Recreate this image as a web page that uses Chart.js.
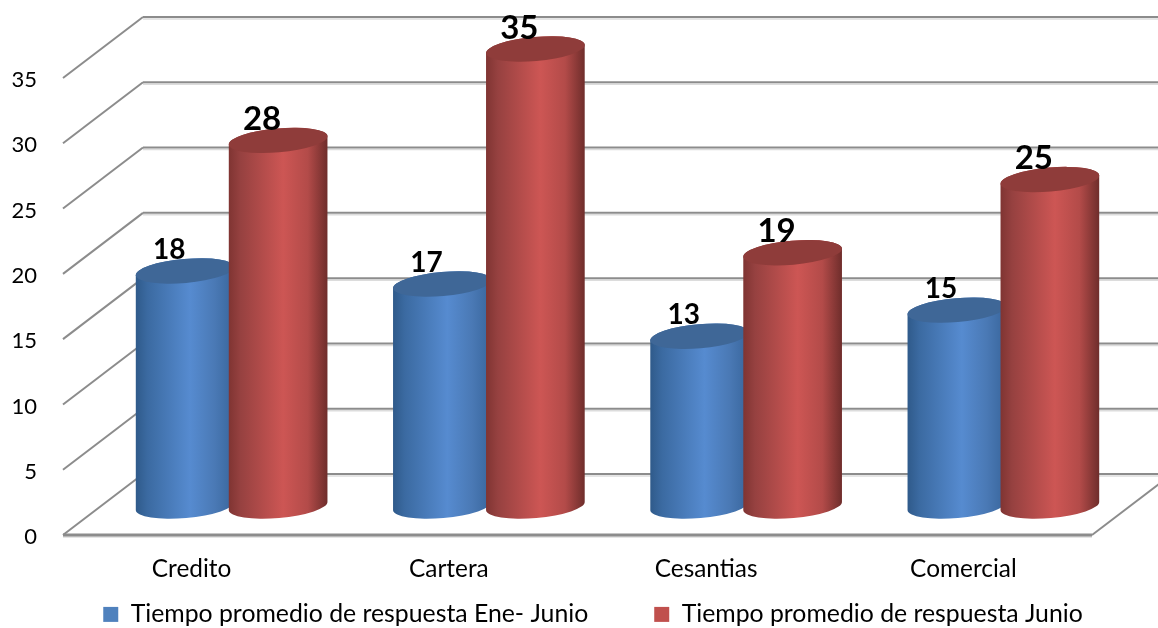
<!DOCTYPE html>
<html>
<head>
<meta charset="utf-8">
<style>
  html, body { margin: 0; padding: 0; background: #fff; }
  canvas { display: block; }
</style>
<script src="https://cdn.jsdelivr.net/npm/chart.js@4/dist/chart.umd.min.js"></script>
</head>
<body>
<canvas id="myChart" width="1158" height="628"></canvas>
<script>
const categorias = ['Credito', 'Cartera', 'Cesantias', 'Comercial'];
const tiempoEneJunio = [18, 17, 13, 15];
const tiempoJunio = [28, 35, 19.4, 25];
const etiquetaEneJunio = 'Tiempo promedio de respuesta Ene- Junio';
const etiquetaJunio = 'Tiempo promedio de respuesta Junio';
const ticksY = [0, 5, 10, 15, 20, 25, 30, 35];

// Profundidad de la caja 3D
const fondoX = 80, fondoY = -61;
const gris = '#8c8c8c', grisClaro = '#dcdcdc';
const tonos = {
  '#4f81bd': { stops: [[0, '#2f5a8a'], [0.12, '#3b6aa1'], [0.55, '#568bd0'], [0.8, '#4a79b5'], [1, '#38659b']], tapa: '#3f6797' },
  '#c0504d': { stops: [[0, '#7f3432'], [0.12, '#964140'], [0.55, '#cd5654'], [0.8, '#b34b49'], [1, '#6e2d2b']], tapa: '#8f3c3a' }
};

// Cada barra se dibuja como cilindro, desplazada a media profundidad
Chart.BarElement.prototype.draw = function (ctx) {
  const { x, y, base, width } = this.getProps(['x', 'y', 'base', 'width']);
  const tono = tonos[this.options.backgroundColor];
  const cx = x + fondoX / 2, rx = width * 1.065 / 2, ry = 12, giro = -5 * Math.PI / 180;
  const arriba = y - 29, abajo = base - 29;
  const grad = ctx.createLinearGradient(cx - rx, 0, cx + rx, 0);
  tono.stops.forEach(s => grad.addColorStop(s[0], s[1]));
  ctx.save();
  ctx.beginPath();
  ctx.ellipse(cx, abajo, rx, ry, giro, 0, Math.PI);
  ctx.ellipse(cx, arriba, rx, ry, giro, Math.PI, 2 * Math.PI);
  ctx.closePath();
  ctx.fillStyle = grad;
  ctx.fill();
  ctx.beginPath();
  ctx.ellipse(cx, arriba, rx, ry, giro, 0, 2 * Math.PI);
  ctx.fillStyle = tono.tapa;
  ctx.fill();
  ctx.restore();
};

function linea(ctx, x1, y1, x2, y2, color, ancho) {
  ctx.beginPath();
  ctx.moveTo(x1, y1);
  ctx.lineTo(x2, y2);
  ctx.strokeStyle = color;
  ctx.lineWidth = ancho;
  ctx.stroke();
}

const caja3d = {
  id: 'caja3d',
  afterLayout(chart) {
    // La leyenda va algo a la derecha y pegada abajo
    const l = chart.legend;
    l.left += 14; l.right += 14;
    l.top = 602 - l.options.labels.padding;
  },
  beforeDatasetsDraw(chart) {
    const ctx = chart.ctx, { left, right } = chart.chartArea, esc = chart.scales.y;
    ctx.save();
    ticksY.forEach(v => {
      const py = esc.getPixelForValue(v);
      linea(ctx, left + fondoX, py + fondoY + 2, right + fondoX, py + fondoY + 2, grisClaro, 1.5);
      linea(ctx, left + fondoX, py + fondoY, right + fondoX, py + fondoY, gris, 2);
      linea(ctx, left, py, left + fondoX, py + fondoY, gris, 2);
    });
    const y0 = esc.getPixelForValue(0);
    linea(ctx, right, y0, right + fondoX, y0 + fondoY, gris, 2);
    linea(ctx, left, y0 + 2, right, y0 + 2, grisClaro, 1.5);
    linea(ctx, left, y0, right, y0, gris, 3);
    ctx.restore();

    // Primero azul y luego rojo, el rojo tapa el borde del azul
    [0, 1].forEach(i => chart.getDatasetMeta(i).controller.draw());

    // Etiquetas de valor
    ctx.save();
    ctx.fillStyle = '#000';
    ctx.textAlign = 'center';
    ctx.textBaseline = 'middle';
    [0, 1].forEach(i => {
      ctx.font = (i === 0 ? 'bold 28px' : 'bold 33px') + ' Lato';
      chart.getDatasetMeta(i).data.forEach((bar, j) => {
        const v = chart.data.datasets[i].data[j];
        ctx.fillText(Math.round(v), bar.x + fondoX / 2 - 16, bar.y - 29 - 21);
      });
    });
    ctx.restore();
    return false;
  }
};

new Chart(document.getElementById('myChart'), {
  type: 'bar',
  data: {
    labels: categorias,
    datasets: [
      { label: etiquetaEneJunio, data: tiempoEneJunio, backgroundColor: '#4f81bd', borderWidth: 0 },
      { label: etiquetaJunio, data: tiempoJunio, backgroundColor: '#c0504d', borderWidth: 0 }
    ]
  },
  options: {
    responsive: false,
    animation: false,
    layout: { padding: { top: 78 } },
    datasets: { bar: { categoryPercentage: 0.723, barPercentage: 1 } },
    plugins: {
      tooltip: { enabled: false },
      legend: {
        position: 'bottom',
        maxHeight: 20,
        labels: { boxWidth: 15, boxHeight: 15, padding: 66, color: '#000', font: { family: 'Lato', size: 24.8 } }
      }
    },
    scales: {
      x: {
        afterFit: s => { s.height = 73; },
        grid: { display: false, drawTicks: false },
        border: { display: false },
        ticks: { color: '#000', padding: 20, maxRotation: 0, font: { family: 'Lato', size: 24.4 } }
      },
      y: {
        min: 0,
        max: 35,
        afterFit: s => { s.width = 63; },
        grid: { display: false, drawTicks: false },
        border: { display: false },
        afterBuildTicks: s => { s.ticks = ticksY.map(v => ({ value: v })); },
        ticks: { color: '#000', padding: 26, labelOffset: 2, font: { family: 'Lato', size: 22 } }
      },
      // Eje vacio a la derecha, solo reserva el hueco de la profundidad
      hueco: {
        position: 'right',
        afterFit: s => { s.width = 66; },
        grid: { display: false, drawTicks: false },
        border: { display: false },
        ticks: { display: false }
      }
    }
  },
  plugins: [caja3d]
});
</script>
</body>
</html>
